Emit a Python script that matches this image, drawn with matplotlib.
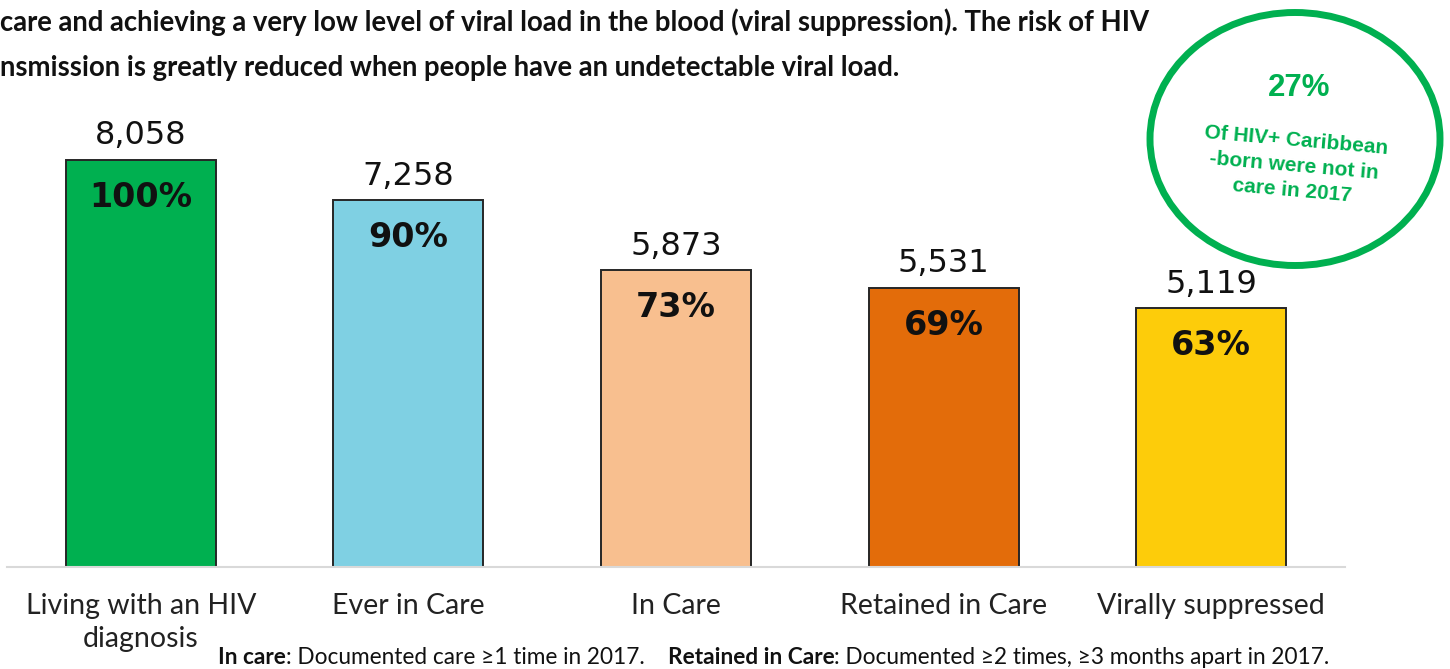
import numpy as np
import matplotlib.pyplot as plt
from matplotlib.patches import Ellipse

categories = ["Living with an HIV\ndiagnosis", "Ever in Care", "In Care",
              "Retained in Care", "Virally suppressed"]
counts = [8058, 7258, 5873, 5531, 5119]
percents = ["100%", "90%", "73%", "69%", "63%"]
colors = ["#00B050", "#7FD0E3", "#F8BF8F", "#E36C0A", "#FDCC0A"]

intro = ["care and achieving a very low level of viral load in the blood (viral suppression). The risk of HIV",
         "nsmission is greatly reduced when people have an undetectable viral load."]

fig = plt.figure(figsize=(14.5, 6.69), dpi=100)
ax = fig.add_axes([7/1450, 102/669, 1338/1450, 505/669])

x = np.arange(len(categories))
ax.bar(x, counts, width=0.56, color=colors, edgecolor="#262626", linewidth=1.4)
ax.set_xlim(-0.5, 4.5)
ax.set_ylim(0, 10000)

for i in range(len(x)):
    ax.text(x[i], counts[i] + 480, f"{counts[i]:,}", ha="center", va="center",
            fontsize=23, family="DejaVu Sans", color="#111111")
    ax.text(x[i], counts[i] - 740, percents[i], ha="center", va="center",
            fontsize=24, fontweight="bold", family="DejaVu Sans", color="#111111")

for s in ["top", "right", "left"]:
    ax.spines[s].set_visible(False)
ax.spines["bottom"].set_color("#D9D9D9")
ax.spines["bottom"].set_linewidth(1.5)
ax.set_yticks([])
ax.set_xticks(x)
first_lines = [c.split("\n")[0] for c in categories]
ax.set_xticklabels(first_lines, fontsize=20.5, family="Lato", color="#222222")
ax.tick_params(axis="x", length=0, pad=19)
# second lines of wrapped category names
for i, c in enumerate(categories):
    rest = c.split("\n")[1:]
    if rest:
        ax.annotate("\n".join(rest), xy=(x[i], 0), xycoords=("data", "axes fraction"),
                    xytext=(0, -52), textcoords="offset points", ha="center",
                    va="center", fontsize=20.5, family="Lato", color="#222222",
                    annotation_clip=False)

# intro text (cropped paragraph)
fig.text(0.0, 1 - 22/669, intro[0], ha="left", va="center", fontsize=19.8,
         fontweight="bold", family="Lato", color="#111111")
fig.text(0.0, 1 - 68/669, intro[1], ha="left", va="center", fontsize=19.8,
         fontweight="bold", family="Lato", color="#111111")

# green circle callout
circ = Ellipse((1295/1450, 1 - 139/669), 290/1450, 253/669, transform=fig.transFigure,
               fill=False, edgecolor="#00B050", linewidth=5)
fig.add_artist(circ)
fig.text(1299/1450, 1 - 88/669, "27%", ha="center", va="center", fontsize=22.5,
         fontweight="bold", family="Liberation Sans", color="#00B050")
fig.text(1294/1450, 1 - 166/669, "Of HIV+ Caribbean\n-born were not in\ncare in 2017",
         ha="center", va="center", fontsize=15, fontweight="bold",
         family="Liberation Sans", color="#00B050", rotation=-5, linespacing=1.42)

# footnote with bold lead-ins
parts = [("In care", "bold"), (": Documented care \u22651 time in 2017.    ", "normal"),
         ("Retained in Care", "bold"), (": Documented \u22652 times, \u22653 months apart in 2017.", "normal")]
prev = fig.text(218/1450, 1 - 657/669, parts[0][0], ha="left", va="center",
                fontsize=16.3, fontweight=parts[0][1], family="Lato", color="#111111")
for txt, wt in parts[1:]:
    prev = ax.annotate(txt, xy=(1, 0.5), xycoords=prev, ha="left", va="center",
                       fontsize=16.3, fontweight=wt, family="Lato", color="#111111",
                       annotation_clip=False)

fig.savefig("out.png", dpi=100)
